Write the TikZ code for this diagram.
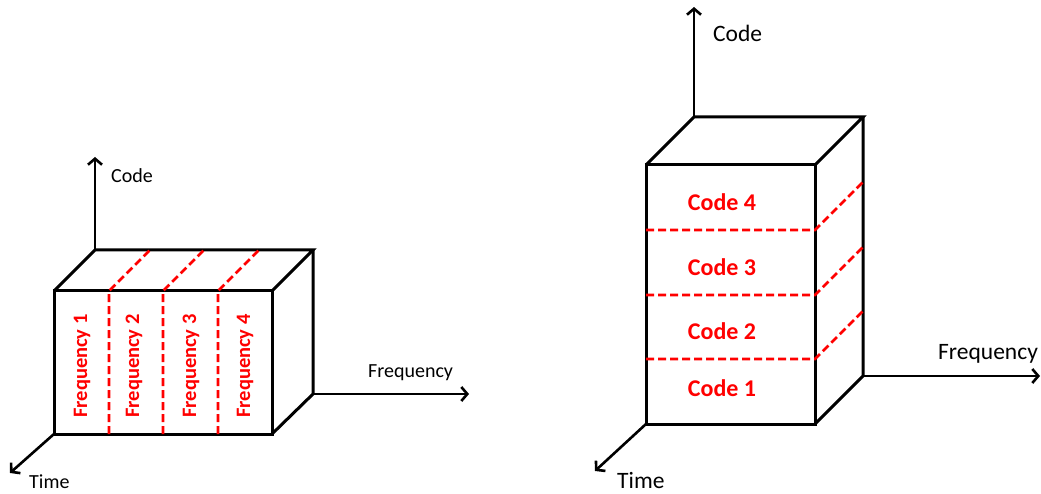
\documentclass[tikz,border=0pt]{standalone}
\usepackage{fontspec}
\setmainfont{Carlito}
\usetikzlibrary{arrows.meta}
\begin{document}
\begin{tikzpicture}[x=1pt,y=-1pt,
  edge/.style={line width=3pt,line join=miter},
  axis/.style={line width=2.6pt,-{Straight Barb[length=6pt,width=14pt,line width=2.6pt]}},
  sep/.style={red,line width=2.8pt,dash pattern=on 8pt off 4pt},
  axlabA/.style={inner sep=0pt,font=\fontsize{20}{22}\selectfont},
  axlabB/.style={inner sep=0pt,font=\fontsize{23.5}{25}\selectfont},
  freqlab/.style={inner sep=0pt,red,rotate=90,font=\bfseries\fontsize{20.5}{22}\selectfont},
  codelab/.style={inner sep=0pt,red,font=\bfseries\fontsize{24}{26}\selectfont}]
\useasboundingbox (0,0) rectangle (1041,494);
% ---------- left cube ----------
\coordinate (lA) at (54,291);   \coordinate (lB) at (272,291);
\coordinate (lC) at (272,434);  \coordinate (lD) at (54,434);
\coordinate (lE) at (95,250);   \coordinate (lF) at (313,250);
\coordinate (lG) at (313,394);
\coordinate (lCodeEnd) at (95,157);
\coordinate (lTimeEnd) at (10,473);
\coordinate (lFreqEnd) at (469,394);
\foreach \i/\x in {1/109,2/163,3/218}{
  \coordinate (lsb\i) at (\x,434);
  \coordinate (lst\i) at (\x,291);
  \coordinate (lsk\i) at (\x+41,250);
}
\draw[axis] (lE) -- (lCodeEnd);
\draw[axis] (lD) -- (lTimeEnd);
\draw[axis] (lG) -- (lFreqEnd);
\draw[edge] (lA) -- (lB) -- (lC) -- (lD) -- cycle;
\draw[edge] (lA) -- (lE) -- (lF) -- (lB);
\draw[edge] (lF) -- (lG) -- (lC);
\foreach \i in {1,2,3}{
  \draw[sep] (lsb\i) -- (lst\i) -- (lsk\i);
}
\node[freqlab] (f1) at (82,366) {Frequency 1};
\node[freqlab] (f2) at (134,366) {Frequency 2};
\node[freqlab] (f3) at (191,366) {Frequency 3};
\node[freqlab] (f4) at (245,366) {Frequency 4};
\node[axlabA,anchor=west] (lcode) at (111,176) {Code};
\node[axlabA,anchor=west] (lfreq) at (368,373) {Frequency};
\node[axlabA,anchor=west] (ltime) at (29,482) {Time};
% ---------- right cube ----------
\coordinate (rA) at (646,165);  \coordinate (rB) at (815,165);
\coordinate (rC) at (815,424);  \coordinate (rD) at (646,424);
\coordinate (rE) at (694,117);  \coordinate (rF) at (863,117);
\coordinate (rG) at (863,376);
\coordinate (rCodeEnd) at (694,7);
\coordinate (rTimeEnd) at (595,471);
\coordinate (rFreqEnd) at (1040,376);
\foreach \i/\y in {1/359,2/295,3/230}{
  \coordinate (rsl\i) at (646,\y);
  \coordinate (rsr\i) at (815,\y);
  \coordinate (rsk\i) at (863,\y-48);
}
\draw[axis] (rE) -- (rCodeEnd);
\draw[axis] (rD) -- (rTimeEnd);
\draw[axis] (rG) -- (rFreqEnd);
\draw[edge] (rA) -- (rB) -- (rC) -- (rD) -- cycle;
\draw[edge] (rA) -- (rE) -- (rF) -- (rB);
\draw[edge] (rF) -- (rG) -- (rC);
\foreach \i in {1,2,3}{
  \draw[sep] (rsl\i) -- (rsr\i) -- (rsk\i);
}
\node[codelab] (c4) at (722,202) {Code 4};
\node[codelab] (c3) at (722,267) {Code 3};
\node[codelab] (c2) at (722,331) {Code 2};
\node[codelab] (c1) at (722,388) {Code 1};
\node[axlabB,anchor=west] (rcode) at (713,33) {Code};
\node[axlabB,anchor=west] (rfreq) at (938,354) {Frequency};
\node[axlabB,anchor=west] (rtime) at (617,480) {Time};
\end{tikzpicture}
\end{document}
